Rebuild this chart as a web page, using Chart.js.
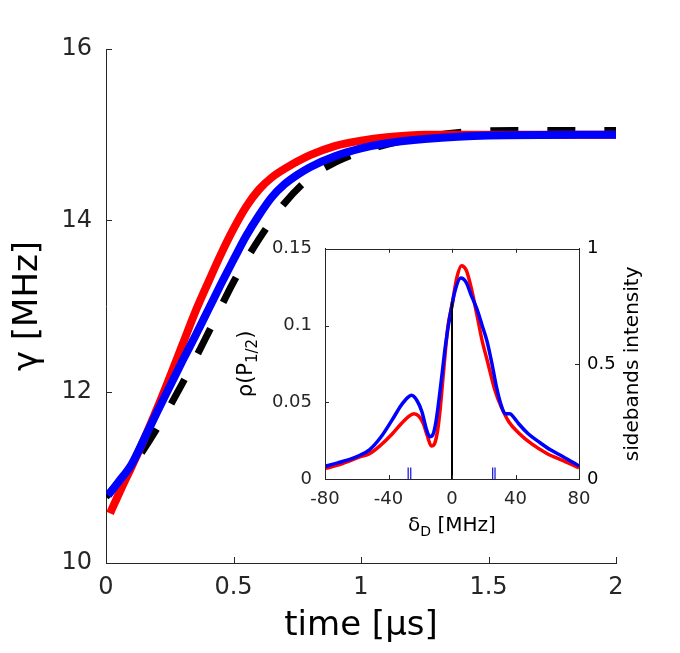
<!DOCTYPE html>
<html>
<head>
<meta charset="utf-8">
<script src="https://cdn.jsdelivr.net/npm/chart.js@4.4.1/dist/chart.umd.min.js"></script>
<style>
html, body { margin: 0; padding: 0; background: #fff; }
#wrap { position: relative; width: 680px; height: 653px; }
#main { position: absolute; left: 0; top: 0; }
#inset { position: absolute; left: 220px; top: 225px; }
</style>
</head>
<body>
<div id="wrap">
  <canvas id="main" width="680" height="653"></canvas>
  <canvas id="inset" width="460" height="320"></canvas>
</div>
<script>
// main plot: gamma vs time
var redTime = [0.016, 0.06, 0.1, 0.15, 0.2, 0.25, 0.3, 0.35, 0.4, 0.45, 0.5, 0.55, 0.6, 0.65, 0.7, 0.8, 0.9, 1.0, 1.1, 1.25, 1.5, 2.0];
var redGamma = [10.58, 10.87, 11.12, 11.45, 11.8, 12.17, 12.55, 12.93, 13.27, 13.6, 13.9, 14.16, 14.36, 14.5, 14.6, 14.76, 14.87, 14.93, 14.97, 15.0, 15.0, 15.0];
var blueTime = [0.008, 0.05, 0.1, 0.15, 0.2, 0.25, 0.3, 0.35, 0.4, 0.45, 0.5, 0.55, 0.6, 0.65, 0.7, 0.75, 0.8, 0.9, 1.0, 1.1, 1.25, 1.5, 2.0];
var blueGamma = [10.79, 10.95, 11.15, 11.45, 11.76, 12.06, 12.36, 12.65, 12.95, 13.25, 13.54, 13.82, 14.06, 14.27, 14.42, 14.53, 14.62, 14.75, 14.84, 14.9, 14.95, 14.99, 15.0];
var blackTime = [0, 0.1, 0.2, 0.3, 0.4, 0.5, 0.6, 0.7, 0.8, 0.9, 1.0, 1.2, 1.4, 1.6, 2.0];
var blackGamma = [10.77, 11.12, 11.57, 12.1, 12.68, 13.28, 13.78, 14.2, 14.5, 14.68, 14.8, 14.95, 15.03, 15.05, 15.05];
var timeTicks = [0, 0.5, 1, 1.5, 2];
var gammaTicks = [10, 12, 14, 16];

// inset: rho(P1/2) vs detuning
var deltaRed = [-80, -72, -64, -58, -52, -45, -38, -32, -27, -24, -21, -18, -15.5, -13, -11, -9, -7.5, -5.5, -2.5, 0, 3, 6, 9, 12, 15.5, 19, 22, 27, 31, 36, 42, 50, 60, 70, 80];
var rhoRed = [0.0068, 0.009, 0.012, 0.0145, 0.0165, 0.022, 0.029, 0.036, 0.041, 0.0425, 0.041, 0.036, 0.028, 0.0215, 0.023, 0.032, 0.045, 0.068, 0.1, 0.113, 0.131, 0.139, 0.136, 0.125, 0.108, 0.09, 0.078, 0.058, 0.047, 0.037, 0.03, 0.023, 0.0165, 0.012, 0.0072];
var deltaBlue = [-80, -72, -64, -58, -52, -45, -38, -32, -28, -25.5, -22, -19, -16, -14, -12, -10, -7, -4, -1, 2, 5.5, 9, 12, 15.6, 19, 22, 25, 28, 31, 33.5, 36.5, 39, 42, 48, 55, 62, 70, 80];
var rhoBlue = [0.0082, 0.0105, 0.013, 0.0155, 0.019, 0.027, 0.038, 0.048, 0.053, 0.0545, 0.051, 0.044, 0.032, 0.0275, 0.029, 0.038, 0.062, 0.088, 0.108, 0.123, 0.131, 0.128, 0.12, 0.111, 0.1, 0.09, 0.076, 0.06, 0.048, 0.0425, 0.0425, 0.04, 0.036, 0.0295, 0.024, 0.019, 0.0145, 0.0085];
var carrierDelta = [0, 0];
var carrierRho = [0, 0.1155];
var sidebandDelta = [-27.6, -26.0, 25.6, 27.1];
var sidebandIntensity = [0.05, 0.05, 0.05, 0.05];
var deltaTicks = [-80, -40, 0, 40, 80];
var rhoTicks = [0, 0.05, 0.1, 0.15];
var sideTicks = [0, 0.5, 1];

var axisColor = '#262626';

function pts(xs, ys) {
  var out = [];
  for (var i = 0; i < xs.length; i++) out.push({ x: xs[i], y: ys[i] });
  return out;
}

function setTicks(list) {
  return function (scale) {
    scale.ticks = list.map(function (v) { return { value: v }; });
  };
}

function fixSize(w, h) {
  return function (scale) {
    if (w !== null) scale.width = w;
    if (h !== null) scale.height = h;
  };
}

// MATLAB style ticks pointing into the plot
var inwardTicks = {
  id: 'inwardTicks',
  afterDatasetsDraw: function (chart, args, opts) {
    var ctx = chart.ctx;
    var area = chart.chartArea;
    var len = opts.len || 5;
    ctx.save();
    ctx.strokeStyle = axisColor;
    ctx.lineWidth = 1;
    (opts.sides || []).forEach(function (s) {
      var scale = chart.scales[s.scale];
      scale.ticks.forEach(function (tk) {
        var p = Math.round(scale.getPixelForValue(tk.value)) + 0.5;
        ctx.beginPath();
        if (s.side === 'bottom') { ctx.moveTo(p, area.bottom); ctx.lineTo(p, area.bottom - len); }
        if (s.side === 'top') { ctx.moveTo(p, area.top); ctx.lineTo(p, area.top + len); }
        if (s.side === 'left') { ctx.moveTo(area.left, p); ctx.lineTo(area.left + len, p); }
        if (s.side === 'right') { ctx.moveTo(area.right, p); ctx.lineTo(area.right - len, p); }
        ctx.stroke();
      });
    });
    if (opts.box) {
      ctx.strokeRect(Math.round(area.left) + 0.5, Math.round(area.top) + 0.5,
        Math.round(area.right - area.left), Math.round(area.bottom - area.top));
    }
    ctx.restore();
  }
};

// text with subscripts, optionally rotated
function drawRich(ctx, parts, cx, cy, rot, size) {
  ctx.save();
  ctx.translate(cx, cy);
  ctx.rotate(rot);
  ctx.fillStyle = '#000';
  ctx.textBaseline = 'middle';
  ctx.textAlign = 'left';
  var total = 0;
  parts.forEach(function (p) {
    ctx.font = (p.sub ? Math.round(size * 0.7) : size) + 'px "DejaVu Sans"';
    p.w = ctx.measureText(p.t).width;
    total += p.w;
  });
  var x = -total / 2;
  parts.forEach(function (p) {
    ctx.font = (p.sub ? Math.round(size * 0.7) : size) + 'px "DejaVu Sans"';
    ctx.fillText(p.t, x, p.sub ? size * 0.3 : 0);
    x += p.w;
  });
  ctx.restore();
}

var insetTitles = {
  id: 'insetTitles',
  afterDraw: function (chart) {
    var ctx = chart.ctx;
    var a = chart.chartArea;
    var midY = (a.top + a.bottom) / 2;
    drawRich(ctx, [{ t: 'ρ(P' }, { t: '1/2', sub: true }, { t: ')' }], 27, midY, -Math.PI / 2, 21);
    drawRich(ctx, [{ t: 'δ' }, { t: 'D', sub: true }, { t: ' [MHz]' }], (a.left + a.right) / 2, 301, 0, 20);
    drawRich(ctx, [{ t: 'sidebands intensity' }], 413, midY, -Math.PI / 2, 20);
  }
};

var tickFontMain = { family: 'DejaVu Sans', size: 24 };
var tickFontInset = { family: 'DejaVu Sans', size: 18 };

new Chart(document.getElementById('main'), {
  type: 'line',
  data: {
    datasets: [
      { data: pts(blueTime, blueGamma), borderColor: '#0000ff', borderWidth: 8 },
      { data: pts(redTime, redGamma), borderColor: '#ff0000', borderWidth: 8 },
      { data: pts(blackTime, blackGamma), borderColor: '#000000', borderWidth: 7, borderDash: [28, 29] }
    ]
  },
  options: {
    responsive: false,
    animation: false,
    elements: {
      point: { radius: 0 },
      line: { cubicInterpolationMode: 'monotone', borderCapStyle: 'butt', fill: false }
    },
    layout: { padding: { top: 49, right: 64, left: 0, bottom: 0 } },
    plugins: {
      legend: { display: false },
      tooltip: { enabled: false },
      inwardTicks: { len: 6, sides: [{ scale: 'x', side: 'bottom' }, { scale: 'y', side: 'left' }] }
    },
    scales: {
      x: {
        type: 'linear', min: 0, max: 2,
        afterBuildTicks: setTicks(timeTicks),
        afterFit: fixSize(null, 90),
        grid: { drawOnChartArea: false, drawTicks: false },
        border: { color: axisColor, width: 1 },
        ticks: { font: tickFontMain, color: axisColor, padding: 10, maxRotation: 0, autoSkip: false,
          callback: function (v) { return String(v); } },
        title: { display: true, text: 'time [μs]', color: '#000',
          font: { family: 'DejaVu Sans', size: 34 }, padding: { top: 0, bottom: 6 } }
      },
      y: {
        type: 'linear', min: 10, max: 16,
        afterBuildTicks: setTicks(gammaTicks),
        afterFit: fixSize(106, null),
        grid: { drawOnChartArea: false, drawTicks: false },
        border: { color: axisColor, width: 1 },
        ticks: { font: tickFontMain, color: axisColor, padding: 14, autoSkip: false,
          callback: function (v) { return String(v); } },
        title: { display: true, text: 'γ [MHz]', color: '#000',
          font: { family: 'DejaVu Sans', size: 34 }, padding: { top: 8, bottom: 0 } }
      }
    }
  },
  plugins: [inwardTicks]
});

var sidebandData = [];
for (var i = 0; i < sidebandDelta.length; i++) {
  sidebandData.push({ x: sidebandDelta[i], y: 0 });
  sidebandData.push({ x: sidebandDelta[i], y: sidebandIntensity[i] });
  sidebandData.push({ x: sidebandDelta[i], y: null });
}

new Chart(document.getElementById('inset'), {
  type: 'line',
  data: {
    datasets: [
      { data: pts(carrierDelta, carrierRho), borderColor: '#000000', borderWidth: 2, yAxisID: 'y', cubicInterpolationMode: 'default', tension: 0 },
      { data: sidebandData, borderColor: '#1f1fe0', borderWidth: 1.3, yAxisID: 'y1', spanGaps: false, cubicInterpolationMode: 'default', tension: 0 },
      { data: pts(deltaBlue, rhoBlue), borderColor: '#0000ff', borderWidth: 3.5, yAxisID: 'y' },
      { data: pts(deltaRed, rhoRed), borderColor: '#ff0000', borderWidth: 3.5, yAxisID: 'y' }
    ]
  },
  options: {
    responsive: false,
    animation: false,
    elements: {
      point: { radius: 0 },
      line: { cubicInterpolationMode: 'monotone', borderCapStyle: 'butt', fill: false }
    },
    layout: { padding: { top: 14, right: 0, left: 0, bottom: 0 } },
    plugins: {
      legend: { display: false },
      tooltip: { enabled: false },
      inwardTicks: { len: 4, box: true, sides: [
        { scale: 'x', side: 'bottom' }, { scale: 'x', side: 'top' },
        { scale: 'y', side: 'left' }, { scale: 'y1', side: 'right' }] }
    },
    scales: {
      x: {
        type: 'linear', min: -80, max: 80,
        afterBuildTicks: setTicks(deltaTicks),
        afterFit: fixSize(null, 66),
        grid: { drawOnChartArea: false, drawTicks: false },
        border: { color: axisColor, width: 1 },
        ticks: { font: tickFontInset, color: axisColor, padding: 10, maxRotation: 0, autoSkip: false,
          callback: function (v) { return String(v); } }
      },
      y: {
        type: 'linear', position: 'left', min: 0, max: 0.15,
        afterBuildTicks: setTicks(rhoTicks),
        afterFit: fixSize(105, null),
        grid: { drawOnChartArea: false, drawTicks: false },
        border: { color: axisColor, width: 1 },
        ticks: { font: tickFontInset, color: axisColor, padding: 13, autoSkip: false,
          callback: function (v) { return String(v); } }
      },
      y1: {
        type: 'linear', position: 'right', min: 0, max: 1,
        afterBuildTicks: setTicks(sideTicks),
        afterFit: fixSize(101, null),
        grid: { drawOnChartArea: false, drawTicks: false },
        border: { color: axisColor, width: 1 },
        ticks: { font: tickFontInset, color: '#000', padding: 8, autoSkip: false,
          callback: function (v) { return String(v); } }
      }
    }
  },
  plugins: [inwardTicks, insetTitles]
});
</script>
</body>
</html>
